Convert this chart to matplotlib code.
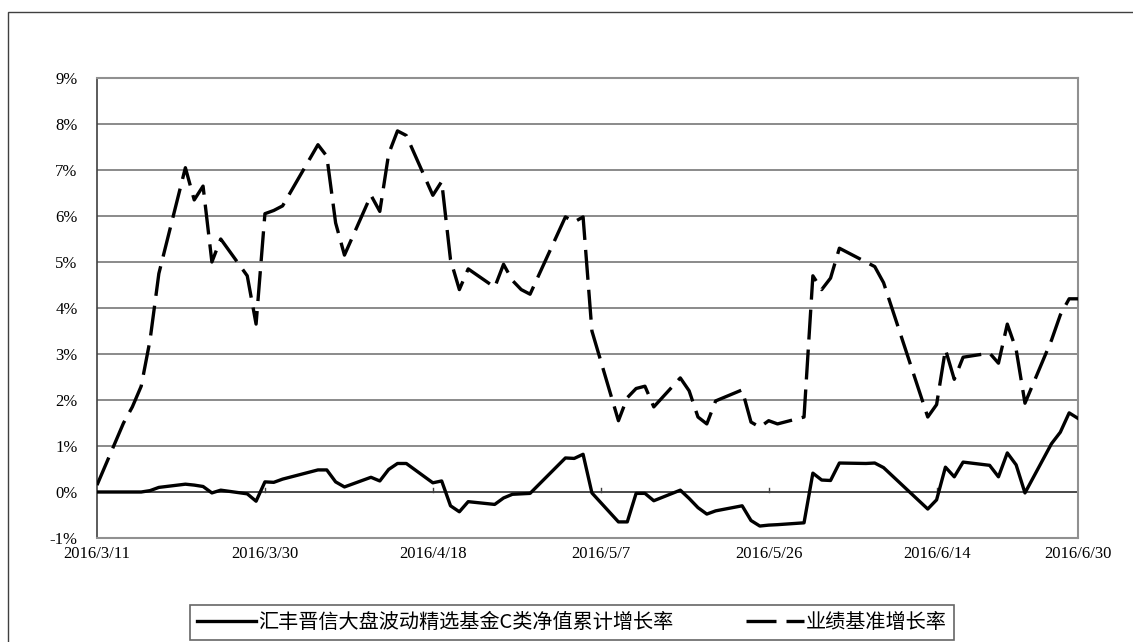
import matplotlib
matplotlib.use('Agg')
import matplotlib.pyplot as plt
import pandas as pd
from matplotlib.patches import Rectangle

plt.rcParams['font.family'] = ['Liberation Serif', 'Noto Sans CJK SC', 'DejaVu Sans']

dates = ['2016-03-11', '2016-03-14', '2016-03-15', '2016-03-16', '2016-03-17', '2016-03-18',
         '2016-03-21', '2016-03-22', '2016-03-23', '2016-03-24', '2016-03-25',
         '2016-03-28', '2016-03-29', '2016-03-30', '2016-03-31', '2016-04-01',
         '2016-04-05', '2016-04-06', '2016-04-07', '2016-04-08',
         '2016-04-11', '2016-04-12', '2016-04-13', '2016-04-14', '2016-04-15',
         '2016-04-18', '2016-04-19', '2016-04-20', '2016-04-21', '2016-04-22',
         '2016-04-25', '2016-04-26', '2016-04-27', '2016-04-28', '2016-04-29',
         '2016-05-03', '2016-05-04', '2016-05-05', '2016-05-06',
         '2016-05-09', '2016-05-10', '2016-05-11', '2016-05-12', '2016-05-13',
         '2016-05-16', '2016-05-17', '2016-05-18', '2016-05-19', '2016-05-20',
         '2016-05-23', '2016-05-24', '2016-05-25', '2016-05-26', '2016-05-27',
         '2016-05-30', '2016-05-31', '2016-06-01', '2016-06-02', '2016-06-03',
         '2016-06-06', '2016-06-07', '2016-06-08',
         '2016-06-13', '2016-06-14', '2016-06-15', '2016-06-16', '2016-06-17',
         '2016-06-20', '2016-06-21', '2016-06-22', '2016-06-23', '2016-06-24',
         '2016-06-27', '2016-06-28', '2016-06-29', '2016-06-30']

# 基金净值累计增长率 (%)
fund = [0.00, 0.00, 0.00, 0.00, 0.03, 0.10,
        0.17, 0.15, 0.12, -0.02, 0.04,
        -0.04, -0.20, 0.22, 0.21, 0.28,
        0.48, 0.48, 0.22, 0.11,
        0.32, 0.24, 0.49, 0.62, 0.62,
        0.20, 0.24, -0.30, -0.43, -0.21,
        -0.27, -0.13, -0.05, -0.04, -0.03,
        0.74, 0.73, 0.82, -0.02,
        -0.65, -0.65, -0.03, -0.03, -0.19,
        0.04, -0.14, -0.34, -0.48, -0.41,
        -0.30, -0.62, -0.74, -0.72, -0.71,
        -0.67, 0.41, 0.26, 0.25, 0.63,
        0.62, 0.63, 0.53,
        -0.37, -0.17, 0.54, 0.33, 0.65,
        0.58, 0.33, 0.85, 0.59, -0.02,
        1.05, 1.30, 1.72, 1.60]

# 业绩基准增长率 (%)
bench = [0.15, 1.50, 1.85, 2.30, 3.30, 4.75,
         7.05, 6.35, 6.65, 5.00, 5.50,
         4.70, 3.65, 6.05, 6.12, 6.22,
         7.55, 7.30, 5.85, 5.15,
         6.45, 6.10, 7.35, 7.85, 7.75,
         6.45, 6.75, 5.05, 4.40, 4.85,
         4.45, 4.95, 4.60, 4.40, 4.30,
         5.98, 5.87, 5.98, 3.50,
         1.55, 2.05, 2.25, 2.30, 1.85,
         2.48, 2.20, 1.63, 1.48, 1.98,
         2.22, 1.52, 1.41, 1.55, 1.48,
         1.63, 4.70, 4.40, 4.65, 5.30,
         5.00, 4.90, 4.55,
         1.63, 1.90, 3.10, 2.45, 2.93,
         3.02, 2.80, 3.65, 3.10, 1.93,
         3.30, 3.85, 4.20, 4.20]

tick_dates = ['2016-03-11', '2016-03-30', '2016-04-18', '2016-05-07',
              '2016-05-26', '2016-06-14', '2016-06-30']
tick_labels = ['2016/3/11', '2016/3/30', '2016/4/18', '2016/5/7',
               '2016/5/26', '2016/6/14', '2016/6/30']
y_ticks = list(range(-1, 10))

x = pd.to_datetime(dates)
xt = pd.to_datetime(tick_dates)

fig = plt.figure(figsize=(11.33, 6.42), dpi=100)
ax = fig.add_axes([97 / 1133, 1 - 538 / 642, (1078 - 97) / 1133, (538 - 78) / 642])

# 外框
fig.patches.append(Rectangle((8 / 1133, -0.1), 1.2, 1 - 12 / 642 + 0.1,
                             transform=fig.transFigure, fill=False,
                             edgecolor='#404040', linewidth=1.0))

for v in y_ticks:
    ax.axhline(v, color='#777777', linewidth=1.2, zorder=1)
ax.axhline(0, color='#404040', linewidth=1.2, zorder=1)
for t in xt[1:-1]:
    ax.plot([t, t], [0, 0.08], color='#404040', linewidth=1.0, zorder=1)

l1, = ax.plot(x, fund, color='black', linewidth=2.4, zorder=3,
              label='汇丰晋信大盘波动精选基金C类净值累计增长率')
l2, = ax.plot(x, bench, color='black', linewidth=2.4, zorder=3,
              linestyle=(0, (9, 3)), label='业绩基准增长率')

ax.set_xlim(xt[0], xt[-1])
ax.set_ylim(-1, 9)
ax.set_yticks(y_ticks)
ax.set_yticklabels(['%d%%' % v for v in y_ticks])
ax.set_xticks(xt)
ax.set_xticklabels(tick_labels)
ax.tick_params(axis='both', length=0, labelsize=12, colors='black')
ax.tick_params(axis='x', pad=6)
ax.tick_params(axis='y', pad=14)

ax.spines['left'].set_color('#404040')
ax.spines['left'].set_linewidth(1.2)
for s in ['top', 'right', 'bottom']:
    ax.spines[s].set_color('#909090')
    ax.spines[s].set_linewidth(1.5)

leg = fig.legend(handles=[l1, l2], loc='lower center', bbox_to_anchor=(0.505, 0.0),
                 ncol=2, frameon=True, fancybox=False, edgecolor='#404040',
                 prop={'family': ['Noto Sans CJK SC', 'DejaVu Sans'], 'size': 14.5},
                 handlelength=2.9, handletextpad=0.1, columnspacing=3.6,
                 borderpad=0.35, borderaxespad=0.1)
leg.get_frame().set_linewidth(1.2)

fig.savefig('out.png', dpi=100)
